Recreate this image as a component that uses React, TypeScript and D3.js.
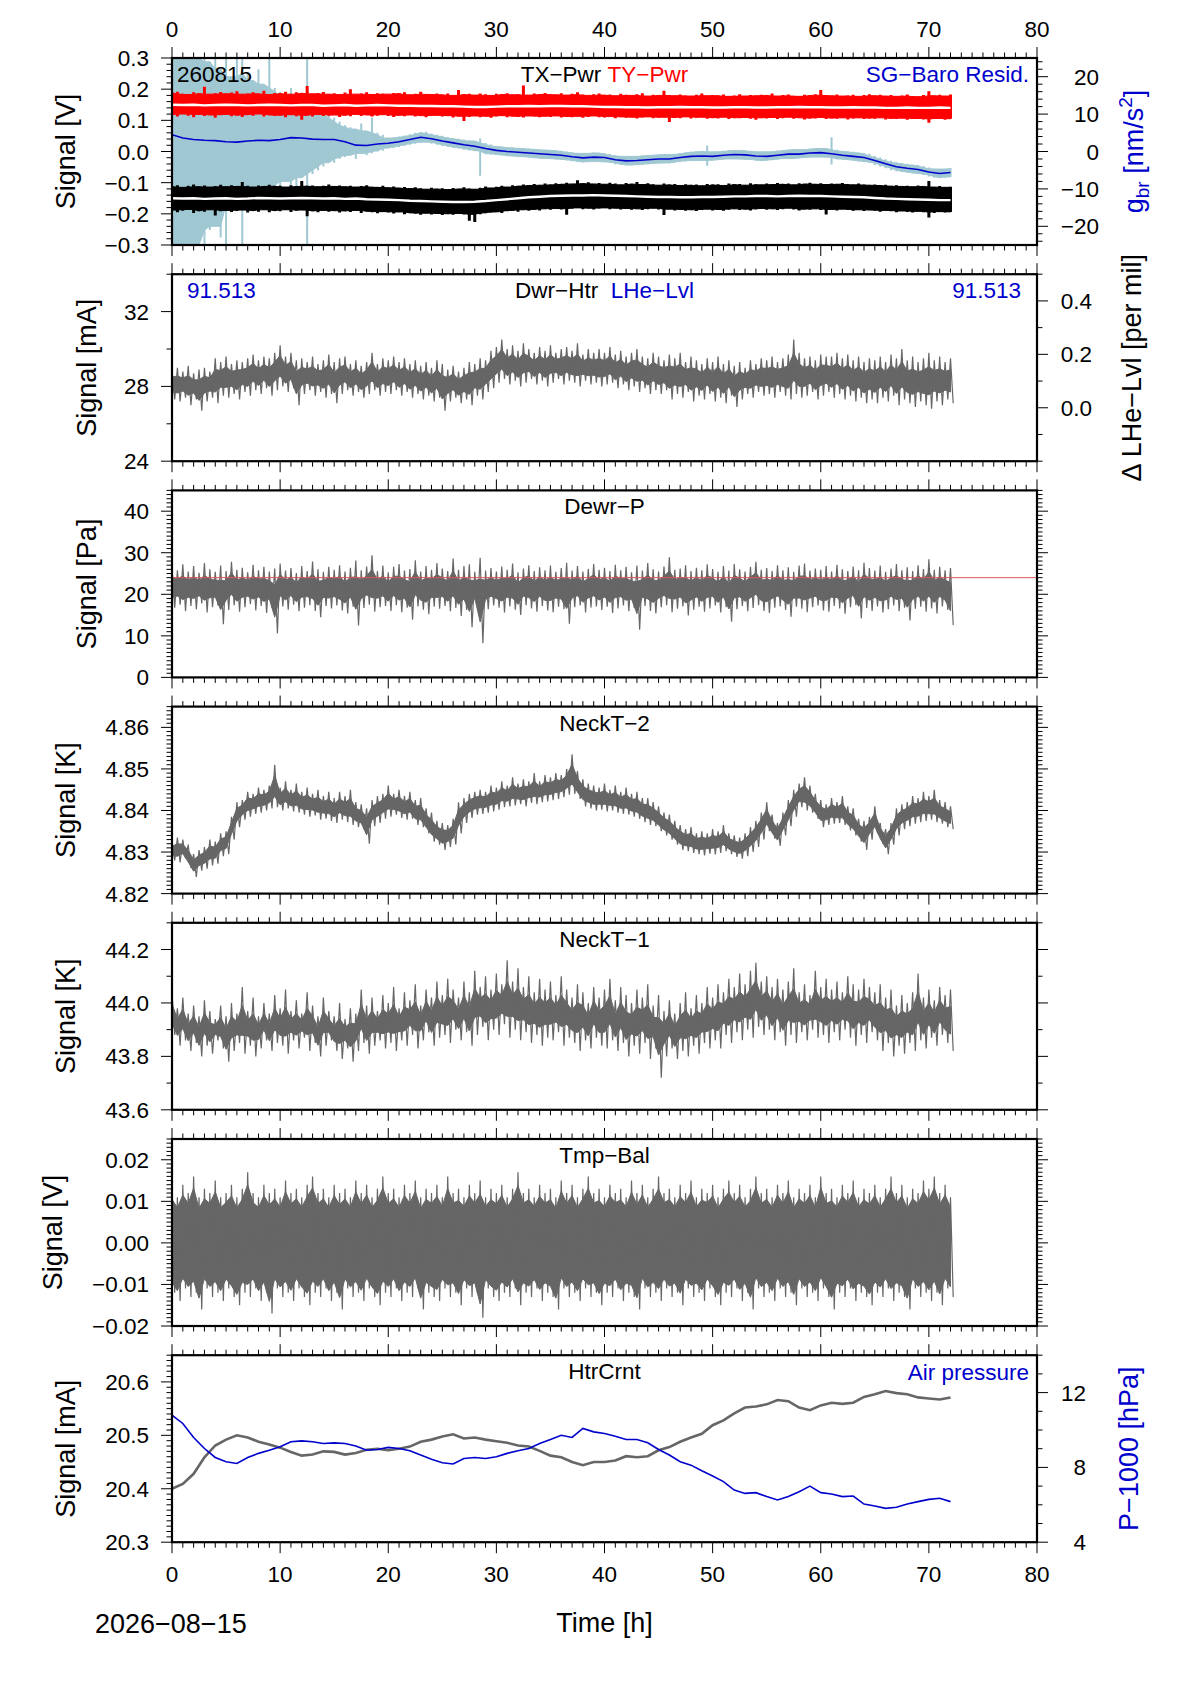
import * as d3 from "d3";

const W = 1190;
const H = 1684;
const FONT = "'Liberation Sans', Arial, Helvetica, sans-serif";
const BLUE = "#0000cc";
const GRAY = "#666666";
const LIGHT_BLUE = "#a0c8d3";
const RED = "#ff0000";

// frame geometry
const X_LEFT = 172;
const X_RIGHT = 1037;
const FIRST_TOP = 58;
const PANEL_H = 187;
const PANEL_STEP = 216.2;

const timeDomain = [0, 80];
const xMajor = [0, 10, 20, 30, 40, 50, 60, 70, 80];
const xLabels = ["0", "10", "20", "30", "40", "50", "60", "70", "80"];

// ---- panel 1: TX/TY power (V) and SG-Baro residual (nm/s^2), half-hour envelopes ----
const tyHi = [
  0.188, 0.192, 0.185, 0.183, 0.19, 0.186, 0.208, 0.184, 0.187, 0.191,
  0.185, 0.189, 0.193, 0.184, 0.186, 0.19, 0.185, 0.195, 0.183, 0.188,
  0.186, 0.192, 0.184, 0.19, 0.187, 0.21, 0.185, 0.188, 0.191, 0.184,
  0.187, 0.183, 0.189, 0.2, 0.184, 0.186, 0.19, 0.183, 0.187, 0.185,
  0.184, 0.188, 0.186, 0.19, 0.182, 0.185, 0.192, 0.184, 0.183, 0.186,
  0.182, 0.186, 0.18, 0.197, 0.183, 0.185, 0.181, 0.186, 0.184, 0.18,
  0.185, 0.183, 0.187, 0.182, 0.184, 0.212, 0.181, 0.186, 0.183, 0.188,
  0.184, 0.182, 0.187, 0.181, 0.185, 0.19, 0.183, 0.18, 0.184, 0.186,
  0.181, 0.183, 0.179, 0.185, 0.182, 0.18, 0.184, 0.187, 0.178, 0.182,
  0.18, 0.195, 0.181, 0.179, 0.183, 0.18, 0.178, 0.182, 0.186, 0.179,
  0.181, 0.179, 0.183, 0.177, 0.18, 0.184, 0.178, 0.181, 0.179, 0.182,
  0.18, 0.186, 0.178, 0.181, 0.183, 0.179, 0.177, 0.182, 0.18, 0.184,
  0.197, 0.181, 0.179, 0.183, 0.178, 0.18, 0.182, 0.177, 0.181, 0.184,
  0.179, 0.182, 0.178, 0.181, 0.177, 0.18, 0.183, 0.178, 0.176, 0.181,
  0.193, 0.179, 0.182, 0.178, 0.183,
];
const tyLo = [
  0.118, 0.112, 0.12, 0.115, 0.11, 0.119, 0.114, 0.117, 0.108, 0.116,
  0.119, 0.113, 0.116, 0.111, 0.118, 0.115, 0.12, 0.112, 0.117, 0.114,
  0.116, 0.11, 0.118, 0.113, 0.102, 0.116, 0.112, 0.119, 0.114, 0.115,
  0.117, 0.111, 0.116, 0.113, 0.119, 0.114, 0.117, 0.112, 0.115, 0.118,
  0.114, 0.111, 0.116, 0.113, 0.117, 0.112, 0.115, 0.11, 0.114, 0.116,
  0.112, 0.115, 0.109, 0.113, 0.098, 0.111, 0.114, 0.11, 0.113, 0.108,
  0.112, 0.115, 0.11, 0.113, 0.111, 0.109, 0.114, 0.112, 0.11, 0.113,
  0.111, 0.114, 0.109, 0.112, 0.11, 0.113, 0.108, 0.111, 0.114, 0.11,
  0.109, 0.112, 0.107, 0.111, 0.108, 0.11, 0.106, 0.109, 0.111, 0.107,
  0.108, 0.11, 0.095, 0.109, 0.107, 0.111, 0.106, 0.108, 0.11, 0.105,
  0.108, 0.106, 0.11, 0.104, 0.108, 0.107, 0.109, 0.105, 0.102, 0.108,
  0.106, 0.109, 0.104, 0.107, 0.11, 0.105, 0.108, 0.103, 0.107, 0.106,
  0.109, 0.104, 0.107, 0.105, 0.108, 0.103, 0.106, 0.108, 0.104, 0.107,
  0.105, 0.108, 0.103, 0.106, 0.104, 0.107, 0.102, 0.105, 0.106, 0.103,
  0.092, 0.104, 0.106, 0.102, 0.105,
];
const txHi = [
  -0.112, -0.108, -0.115, -0.11, -0.106, -0.113, -0.109, -0.114, -0.111, -0.107,
  -0.113, -0.108, -0.112, -0.098, -0.11, -0.114, -0.109, -0.112, -0.107, -0.111,
  -0.11, -0.114, -0.108, -0.112, -0.095, -0.111, -0.109, -0.113, -0.11, -0.106,
  -0.112, -0.109, -0.113, -0.11, -0.114, -0.111, -0.108, -0.113, -0.115, -0.11,
  -0.116, -0.112, -0.117, -0.114, -0.119, -0.115, -0.118, -0.121, -0.116, -0.12,
  -0.118, -0.122, -0.117, -0.12, -0.115, -0.119, -0.121, -0.116, -0.112, -0.117,
  -0.113, -0.11, -0.114, -0.108, -0.111, -0.106, -0.109, -0.104, -0.108, -0.103,
  -0.107, -0.102, -0.105, -0.1, -0.104, -0.092, -0.103, -0.099, -0.104, -0.101,
  -0.105, -0.1, -0.103, -0.107, -0.101, -0.104, -0.098, -0.106, -0.102, -0.105,
  -0.108, -0.103, -0.107, -0.104, -0.109, -0.105, -0.108, -0.106, -0.11, -0.104,
  -0.107, -0.105, -0.109, -0.103, -0.106, -0.104, -0.108, -0.102, -0.105, -0.107,
  -0.103, -0.106, -0.101, -0.105, -0.103, -0.107, -0.102, -0.104, -0.1, -0.105,
  -0.102, -0.106, -0.103, -0.105, -0.101, -0.104, -0.107, -0.103, -0.106, -0.108,
  -0.106, -0.109, -0.107, -0.111, -0.108, -0.112, -0.11, -0.113, -0.109, -0.112,
  -0.095, -0.114, -0.111, -0.115, -0.113,
];
const txLo = [
  -0.188, -0.195, -0.19, -0.186, -0.197, -0.191, -0.193, -0.187, -0.205, -0.192,
  -0.189, -0.194, -0.191, -0.188, -0.196, -0.19, -0.193, -0.187, -0.195, -0.19,
  -0.192, -0.187, -0.194, -0.19, -0.188, -0.208, -0.191, -0.195, -0.189, -0.193,
  -0.19, -0.196, -0.191, -0.194, -0.189, -0.197, -0.192, -0.195, -0.198, -0.193,
  -0.196, -0.199, -0.194, -0.201, -0.197, -0.2, -0.203, -0.198, -0.202, -0.199,
  -0.204, -0.2, -0.203, -0.199, -0.202, -0.222, -0.226, -0.201, -0.198, -0.196,
  -0.194, -0.197, -0.192, -0.189, -0.193, -0.187, -0.19, -0.186, -0.189, -0.184,
  -0.187, -0.183, -0.186, -0.203, -0.184, -0.181, -0.185, -0.182, -0.186, -0.183,
  -0.181, -0.185, -0.182, -0.186, -0.183, -0.187, -0.184, -0.188, -0.185, -0.182,
  -0.186, -0.204, -0.185, -0.189, -0.186, -0.19, -0.187, -0.191, -0.188, -0.185,
  -0.189, -0.186, -0.19, -0.187, -0.184, -0.188, -0.185, -0.189, -0.186, -0.183,
  -0.187, -0.184, -0.188, -0.185, -0.182, -0.186, -0.189, -0.185, -0.187, -0.184,
  -0.188, -0.202, -0.186, -0.189, -0.185, -0.188, -0.19, -0.187, -0.191, -0.188,
  -0.19, -0.193, -0.189, -0.192, -0.195, -0.191, -0.194, -0.196, -0.192, -0.195,
  -0.212, -0.197, -0.193, -0.196, -0.194,
];
// hourly smoothed power (white lines)
const tySmooth = [
  0.15, 0.149, 0.15, 0.148, 0.149, 0.15, 0.149, 0.148, 0.149, 0.15,
  0.149, 0.148, 0.149, 0.149, 0.147, 0.148, 0.149, 0.147, 0.148, 0.149,
  0.148, 0.147, 0.147, 0.146, 0.146, 0.145, 0.145, 0.144, 0.143, 0.143,
  0.144, 0.145, 0.145, 0.146, 0.145, 0.146, 0.146, 0.145, 0.145, 0.144,
  0.143, 0.143, 0.142, 0.142, 0.141, 0.142, 0.142, 0.143, 0.142, 0.142,
  0.141, 0.141, 0.142, 0.142, 0.141, 0.141, 0.142, 0.142, 0.143, 0.142,
  0.142, 0.141, 0.141, 0.142, 0.141, 0.141, 0.14, 0.14, 0.141, 0.14,
  0.14, 0.141, 0.14,
];
const txSmooth = [
  -0.15, -0.151, -0.15, -0.152, -0.151, -0.15, -0.152, -0.151, -0.149, -0.15,
  -0.151, -0.15, -0.149, -0.15, -0.151, -0.15, -0.152, -0.151, -0.153, -0.154,
  -0.155, -0.156, -0.158, -0.159, -0.16, -0.161, -0.162, -0.162, -0.161, -0.159,
  -0.156, -0.153, -0.15, -0.147, -0.145, -0.143, -0.142, -0.141, -0.141, -0.14,
  -0.141, -0.142, -0.143, -0.144, -0.145, -0.146, -0.146, -0.147, -0.147, -0.146,
  -0.146, -0.145, -0.144, -0.144, -0.143, -0.143, -0.144, -0.143, -0.142, -0.143,
  -0.143, -0.144, -0.145, -0.146, -0.147, -0.149, -0.151, -0.152, -0.153, -0.154,
  -0.155, -0.156, -0.156,
];
const gbrHi = [
  25, 25, 25, 25, 25, 25, 25, 24, 25, 22,
  25, 20, 25, 25, 21, 19, 22, 18, 25, 17,
  16, 15, 17, 14, 15, 25, 12, 11, 10, 11,
  9, 8, 7, 6.5, 6, 7.5, 5.5, 9, 5, 4.5,
  3.6, 3.8, 4.0, 4.3, 4.6, 5.0, 5.2, 5.3, 4.8, 4.5,
  4.2, 3.9, 3.6, 3.4, 3.2, 2.9, 2.8, 3.5, 2.3, 1.9,
  1.5, 1.3, 1.2, 1.0, 1.0, 0.8, 0.8, 0.6, 0.6, 0.4,
  0.4, 0.3, 0.2, 0.0, -0.2, -0.4, -0.5, -0.4, -0.3, -0.4,
  -0.4, -0.7, -1.0, -1.2, -1.3, -1.3, -1.2, -1.1, -1.0, -0.9,
  -0.8, -0.8, -0.8, -0.6, -0.4, -0.2, -0.1, 0.0, 0.0, 1.6,
  -0.1, 0.0, 0.2, 0.3, 0.4, 0.3, 0.3, 0.2, 0.0, -0.1,
  -0.1, 0.1, 0.2, 0.4, 0.5, 0.5, 0.5, 0.6, 0.8, 0.9,
  0.9, 0.8, 3.8, 0.5, 0.2, 0.0, -0.1, -0.3, -0.4, -0.6,
  -1.2, -1.6, -2.1, -2.5, -2.9, -3.1, -3.3, -3.6, -3.6, -3.9,
  -4.3, -4.6, -4.7, -4.6, -4.4,
];
const gbrLo = [
  -25, -25, -25, -25, -25, -25, -25, -21, -20, -23,
  -25, -14, -16, -25, -12, -11, -13, -10, -14, -9,
  -11, -8, -9, -10, -7, -25, -6, -5, -4, -3,
  -3, -2, -1.5, -1, -2, -0.5, -1, -0.5, 0, 0.2,
  0.8, 1.0, 1.2, 1.5, 1.8, 2.1, 2.4, 2.5, 2.1, 1.8,
  1.5, 1.2, 1.0, 0.8, 0.5, 0.3, 0.1, -6.5, -0.6, -0.8,
  -0.9, -1.1, -1.2, -1.3, -1.4, -1.5, -1.6, -1.8, -1.8, -1.9,
  -2.0, -2.1, -2.2, -2.4, -2.6, -2.8, -2.9, -2.8, -2.7, -2.8,
  -2.8, -3.1, -3.4, -3.6, -3.7, -3.7, -3.6, -3.5, -3.4, -3.3,
  -3.2, -3.1, -3.2, -3.0, -2.8, -2.6, -2.5, -2.4, -2.4, -3.8,
  -2.5, -2.3, -2.2, -2.0, -2.0, -2.1, -2.1, -2.3, -2.4, -2.5,
  -2.5, -2.3, -2.2, -2.0, -1.9, -1.9, -1.9, -1.7, -1.6, -1.5,
  -1.5, -1.6, -3.5, -2.0, -2.2, -2.3, -2.5, -2.7, -2.8, -3.1,
  -3.6, -4.0, -4.5, -5.0, -5.3, -5.5, -5.7, -5.9, -6.0, -6.3,
  -6.7, -7.0, -7.1, -7.0, -6.8,
];
const gbrSmooth = [
  4.5, 3.6, 3.2, 3.0, 2.9, 2.6, 2.5, 2.8, 3.0, 2.9,
  3.2, 3.7, 3.6, 3.3, 3.2, 3.2, 2.6, 1.7, 1.6, 2.0,
  2.2, 2.6, 3.2, 3.8, 3.4, 2.8, 2.3, 1.8, 1.4, 0.8,
  0.3, 0.0, -0.2, -0.4, -0.6, -0.8, -1.0, -1.4, -1.7, -1.5,
  -1.6, -2.2, -2.5, -2.4, -2.2, -2.0, -2.0, -1.6, -1.3, -1.2,
  -1.3, -1.0, -0.8, -0.9, -1.2, -1.3, -1.0, -0.7, -0.7, -0.4,
  -0.3, -0.6, -1.0, -1.3, -1.6, -2.4, -3.3, -4.1, -4.5, -4.8,
  -5.5, -5.9, -5.6,
];

// ---- panel 2: Dwr-Htr (mA) ----
const dwrHtrHi = [
  28.9, 29.0, 28.8, 29.1, 28.7, 28.9, 29.0, 28.8, 29.5, 29.3,
  29.6, 29.2, 29.4, 29.3, 29.5, 29.7, 29.4, 29.6, 29.5, 29.8,
  30.2, 29.6, 29.8, 29.4, 29.5, 29.3, 29.6, 29.2, 29.4, 29.7,
  29.3, 29.5, 29.6, 29.2, 29.4, 29.1, 29.3, 29.8, 29.2, 29.5,
  29.4, 29.6, 29.3, 29.5, 29.2, 29.4, 29.1, 29.3, 29.0, 29.4,
  29.2, 28.9, 29.1, 28.8, 29.0, 29.3, 29.2, 29.5, 29.4, 29.9,
  30.1, 30.5, 30.0, 30.2, 29.9, 30.3, 30.0, 29.8, 30.1, 29.9,
  30.2, 29.8, 30.0, 30.1, 29.9, 30.3, 29.7, 30.0, 29.8, 30.0,
  29.8, 30.1, 29.7, 29.9, 29.6, 29.8, 30.0, 29.6, 29.5, 29.8,
  29.6, 29.4, 29.7, 29.5, 29.8, 29.3, 29.6, 29.4, 29.2, 29.5,
  29.3, 29.6, 29.2, 29.4, 29.1, 29.3, 29.0, 29.4, 29.2, 29.5,
  29.4, 29.6, 29.3, 29.5, 29.7, 30.5, 29.8, 29.5, 29.6, 29.4,
  29.7, 29.6, 29.6, 29.8, 29.5, 29.7, 29.4, 29.6, 29.3, 29.5,
  29.4, 29.6, 29.3, 29.7, 29.5, 30.0, 29.4, 29.6, 29.3, 29.5,
  29.8, 29.4, 29.6, 29.3, 29.5,
];
const dwrHtrLo = [
  27.3, 27.2, 27.4, 27.0, 27.3, 26.7, 27.2, 27.4, 27.1, 27.5,
  27.4, 27.6, 27.3, 27.7, 27.5, 27.8, 27.6, 27.9, 27.5, 27.8,
  28.0, 27.7, 27.9, 27.0, 27.6, 27.8, 27.5, 27.7, 27.4, 27.6,
  27.1, 27.6, 27.8, 27.5, 27.7, 27.4, 27.6, 27.8, 27.5, 27.7,
  27.6, 27.8, 27.5, 27.7, 27.4, 27.6, 27.3, 27.5, 27.2, 27.4,
  26.7, 27.2, 27.4, 27.1, 27.3, 27.0, 27.5, 27.3, 27.7, 27.9,
  28.2, 28.4, 28.1, 28.3, 28.0, 28.2, 28.4, 28.1, 28.3, 28.0,
  28.2, 28.4, 28.1, 28.3, 28.2, 28.0, 28.3, 28.1, 28.2, 28.0,
  28.1, 28.2, 27.9, 28.1, 27.8, 28.0, 27.7, 27.9, 27.6, 27.8,
  27.6, 27.8, 27.3, 27.6, 27.4, 27.7, 27.2, 27.5, 27.3, 27.6,
  27.2, 27.4, 27.1, 27.5, 26.9, 27.3, 27.6, 27.4, 27.7, 27.5,
  27.6, 27.4, 27.7, 27.5, 27.3, 27.6, 27.4, 27.5, 27.7, 27.3,
  27.5, 27.7, 27.4, 27.6, 27.3, 27.5, 27.2, 27.4, 27.1, 27.3,
  27.1, 27.4, 27.2, 27.5, 27.0, 27.3, 27.1, 26.9, 27.2, 27.0,
  26.8, 27.2, 27.0, 27.3, 27.1,
];
const lheLabel = "91.513";

// ---- panel 3: Dewr-P (Pa) ----
const dewrPHi = [
  26.5, 25.8, 27.2, 25.5, 26.8, 25.2, 27.5, 26.0, 25.4, 26.9,
  25.6, 27.8, 25.9, 26.4, 25.3, 27.1, 25.8, 26.6, 25.5, 26.2,
  27.4, 25.7, 26.3, 25.1, 26.8, 25.6, 27.9, 26.0, 25.4, 26.6,
  25.9, 27.0, 25.5, 26.4, 28.1, 25.8, 26.7, 29.4, 25.6, 26.9,
  25.3, 26.6, 27.3, 25.7, 26.1, 28.2, 25.5, 26.8, 25.9, 27.5,
  26.2, 25.6, 28.6, 25.9, 26.8, 27.2, 25.4, 28.8, 25.7, 26.3,
  25.5, 26.7, 25.9, 27.4, 25.3, 26.2, 27.0, 25.6, 26.5, 25.8,
  26.9, 25.4, 26.3, 27.6, 25.7, 26.8, 25.5, 26.1, 27.3, 25.9,
  26.4, 25.6, 27.1, 25.8, 26.6, 25.3, 26.9, 25.7, 27.5, 26.0,
  25.5, 26.7, 28.9, 25.9, 26.2, 27.0, 25.6, 26.4, 25.8, 27.2,
  26.1, 25.4, 26.8, 25.7, 27.3, 26.0, 25.5, 26.6, 27.8, 25.9,
  26.3, 25.6, 27.0, 25.8, 26.5, 25.4, 26.9, 27.4, 25.7, 26.2,
  25.9, 26.8, 25.5, 27.1, 26.0, 25.6, 26.7, 25.8, 27.6, 26.3,
  25.7, 26.9, 25.4, 26.2, 27.3, 25.8, 26.5, 25.6, 27.0, 26.1,
  28.4, 25.9, 26.6, 25.8, 26.3,
];
const dewrPLo = [
  16.8, 17.5, 15.9, 17.2, 16.4, 17.8, 15.6, 16.9, 17.3, 12.8,
  16.2, 17.4, 15.8, 16.9, 17.6, 16.1, 17.2, 15.5, 16.7, 10.6,
  17.1, 16.3, 17.5, 15.9, 16.8, 17.4, 16.0, 14.5, 17.2, 16.6,
  17.3, 16.1, 15.4, 17.0, 12.5, 16.7, 17.5, 15.8, 16.9, 17.2,
  16.0, 17.4, 15.7, 16.8, 13.9, 17.1, 16.3, 15.2, 17.0, 16.5,
  17.2, 15.9, 16.7, 14.8, 16.2, 12.1, 17.0, 8.2, 16.4, 17.3,
  16.8, 15.6, 17.1, 16.3, 15.0, 17.4, 16.6, 15.8, 17.2, 16.1,
  15.7, 17.0, 16.4, 12.9, 16.9, 17.3, 15.6, 16.8, 17.1, 16.2,
  17.0, 15.5, 16.6, 17.3, 15.9, 16.7, 11.5, 17.2, 16.0, 15.4,
  16.9, 17.4, 15.7, 16.5, 17.1, 14.9, 16.3, 17.0, 15.8, 16.6,
  17.3, 15.6, 16.9, 13.4, 16.4, 17.2, 15.9, 16.7, 17.4, 16.0,
  15.5, 16.8, 17.1, 16.2, 14.6, 17.0, 16.5, 15.7, 16.9, 17.3,
  16.1, 15.8, 17.2, 16.6, 15.3, 16.9, 17.4, 14.2, 16.7, 16.0,
  17.1, 15.6, 16.4, 17.3, 15.9, 16.8, 13.7, 16.5, 17.0, 15.8,
  16.6, 15.4, 17.1, 16.2, 12.6,
];
const dewrPLimit = [24];

// ---- panel 4: NeckT-2 (K) ----
const neck2Hi = [
  4.8325, 4.8335, 4.833, 4.8318, 4.8295, 4.8305, 4.8312, 4.833, 4.8325, 4.8345,
  4.835, 4.8385, 4.842, 4.8425, 4.8445, 4.844, 4.8455, 4.845, 4.846, 4.851,
  4.8455, 4.847, 4.845, 4.8465, 4.8445, 4.8455, 4.844, 4.845, 4.8435, 4.8445,
  4.843, 4.8445, 4.8435, 4.845, 4.842, 4.8415, 4.8405, 4.8425, 4.8435, 4.844,
  4.846, 4.844, 4.845, 4.8435, 4.8445, 4.8425, 4.843, 4.8405, 4.8395, 4.8375,
  4.837, 4.8365, 4.838, 4.842, 4.843, 4.844, 4.8445, 4.845, 4.8445, 4.846,
  4.8455, 4.847, 4.846, 4.848, 4.8465, 4.8475, 4.847, 4.849, 4.847, 4.8485,
  4.848, 4.849, 4.8485, 4.85, 4.8535, 4.8495, 4.8475, 4.8465, 4.846, 4.8455,
  4.8465, 4.845, 4.846, 4.8445, 4.8455, 4.844, 4.8445, 4.843, 4.843, 4.842,
  4.841, 4.8395, 4.839, 4.8375, 4.8365, 4.8355, 4.836, 4.8345, 4.835, 4.8345,
  4.8355, 4.835, 4.8365, 4.8345, 4.834, 4.8335, 4.8345, 4.836, 4.8375, 4.8395,
  4.842, 4.839, 4.837, 4.8395, 4.8425, 4.845, 4.8465, 4.848, 4.846, 4.844,
  4.8425, 4.8415, 4.843, 4.842, 4.8435, 4.841, 4.8405, 4.838, 4.8375, 4.8385,
  4.841, 4.837, 4.8355, 4.837, 4.8405, 4.8415, 4.842, 4.8435, 4.843, 4.8445,
  4.8435, 4.845, 4.8425, 4.842, 4.841,
];
const neck2Lo = [
  4.828, 4.8275, 4.8285, 4.8262, 4.824, 4.8255, 4.826, 4.8268, 4.8272, 4.829,
  4.8295, 4.833, 4.836, 4.8378, 4.8385, 4.8392, 4.8395, 4.84, 4.8405, 4.8408,
  4.84, 4.8405, 4.8398, 4.8395, 4.839, 4.8385, 4.8388, 4.8378, 4.838, 4.8375,
  4.837, 4.8378, 4.8372, 4.8365, 4.836, 4.8355, 4.832, 4.8362, 4.837, 4.838,
  4.8385, 4.839, 4.8382, 4.8378, 4.838, 4.8365, 4.836, 4.8345, 4.8325, 4.8318,
  4.8305, 4.8312, 4.8318, 4.8345, 4.837, 4.8382, 4.839, 4.8392, 4.8395, 4.8398,
  4.8402, 4.8408, 4.841, 4.8412, 4.8415, 4.841, 4.8418, 4.8415, 4.842, 4.8422,
  4.8425, 4.8428, 4.8432, 4.8438, 4.844, 4.8428, 4.841, 4.8405, 4.84, 4.8402,
  4.8398, 4.84, 4.8395, 4.8392, 4.839, 4.8385, 4.838, 4.8372, 4.8365, 4.8362,
  4.835, 4.834, 4.833, 4.8318, 4.8305, 4.8302, 4.8298, 4.8295, 4.8292, 4.8296,
  4.8294, 4.8298, 4.8302, 4.8295, 4.8288, 4.8284, 4.829, 4.83, 4.8312, 4.833,
  4.835, 4.8332, 4.8315, 4.834, 4.8362, 4.8385, 4.8408, 4.84, 4.8395, 4.838,
  4.836, 4.8365, 4.8368, 4.837, 4.8365, 4.8352, 4.834, 4.8325, 4.8305, 4.833,
  4.8345, 4.832, 4.8295, 4.8318, 4.834, 4.8355, 4.8362, 4.8368, 4.8372, 4.8375,
  4.8378, 4.8372, 4.8368, 4.836, 4.8355,
];

// ---- panel 5: NeckT-1 (K) ----
const neck1Hi = [
  44.04, 43.98, 44.02, 43.96, 43.99, 43.95, 44.01, 43.97, 43.94, 43.99,
  43.95, 44.0, 43.96, 44.06, 43.97, 44.02, 43.95, 44.0, 43.96, 44.03,
  43.98, 44.05, 43.97, 44.01, 43.96, 44.04, 43.99, 43.95, 44.02, 43.97,
  43.95, 44.0, 43.94, 43.98, 43.96, 44.05, 43.99, 44.02, 43.97, 44.03,
  44.0, 44.06, 43.98, 44.04, 44.01, 44.07, 43.99, 44.05, 44.02, 44.08,
  44.03, 44.09, 44.05, 44.02, 44.08, 44.04, 44.12, 44.06, 44.1, 44.05,
  44.11, 44.07, 44.16, 44.08, 44.13, 44.06, 44.1, 44.04, 44.09, 44.05,
  44.08, 44.03, 44.1, 44.05, 44.02, 44.07, 44.04, 44.0, 44.06, 44.02,
  44.05, 44.09, 44.01, 44.06, 44.03, 44.0, 44.05, 44.02, 44.07, 43.99,
  44.03, 43.97, 44.01, 43.96, 44.0, 44.04, 43.98, 44.03, 44.0, 44.06,
  44.02, 44.07, 44.04, 44.09, 44.06, 44.11, 44.07, 44.12, 44.15, 44.08,
  44.1, 44.06, 44.09, 44.05, 44.08, 44.13, 44.04, 44.07, 44.03, 44.12,
  44.06, 44.09, 44.05, 44.08, 44.04, 44.1, 44.07, 44.05, 44.09, 44.06,
  44.04, 44.07, 44.02, 44.05, 43.99, 44.03, 44.0, 44.04, 44.11, 44.02,
  44.05, 44.01, 44.06, 44.03, 44.05,
];
const neck1Lo = [
  43.88, 43.84, 43.86, 43.82, 43.85, 43.8, 43.84, 43.81, 43.86, 43.83,
  43.78, 43.82, 43.85, 43.81, 43.84, 43.8, 43.83, 43.86, 43.82, 43.85,
  43.84, 43.81, 43.86, 43.83, 43.87, 43.82, 43.85, 43.8, 43.84, 43.86,
  43.82, 43.79, 43.83, 43.78, 43.82, 43.85, 43.81, 43.84, 43.86, 43.83,
  43.85, 43.82, 43.86, 43.84, 43.88, 43.83, 43.86, 43.89, 43.84, 43.87,
  43.88, 43.85, 43.9, 43.86, 43.89, 43.84, 43.88, 43.91, 43.86, 43.9,
  43.88, 43.92, 43.87, 43.9, 43.86, 43.89, 43.85, 43.88, 43.84, 43.87,
  43.86, 43.89, 43.84, 43.87, 43.85, 43.82, 43.86, 43.83, 43.87, 43.84,
  43.83, 43.86, 43.82, 43.85, 43.8, 43.84, 43.81, 43.85, 43.79, 43.83,
  43.72, 43.8, 43.83, 43.79, 43.82, 43.8, 43.84, 43.81, 43.85, 43.83,
  43.86, 43.83, 43.88, 43.85, 43.89, 43.86, 43.9, 43.87, 43.91, 43.88,
  43.9, 43.86, 43.89, 43.84, 43.88, 43.85, 43.89, 43.86, 43.9, 43.87,
  43.88, 43.85, 43.89, 43.86, 43.9, 43.87, 43.84, 43.88, 43.85, 43.89,
  43.86, 43.82, 43.85, 43.8, 43.84, 43.81, 43.85, 43.82, 43.86, 43.83,
  43.87, 43.84, 43.88, 43.85, 43.82,
];

// ---- panel 6: Tmp-Bal (V) ----
const tmpBalHi = [
  0.013, 0.011, 0.014, 0.012, 0.016, 0.011, 0.013, 0.012, 0.015, 0.011,
  0.012, 0.014, 0.011, 0.013, 0.017, 0.012, 0.011, 0.014, 0.012, 0.013,
  0.011, 0.015, 0.012, 0.013, 0.011, 0.014, 0.016, 0.012, 0.013, 0.011,
  0.014, 0.012, 0.013, 0.011, 0.015, 0.012, 0.014, 0.011, 0.013, 0.016,
  0.012, 0.013, 0.011, 0.014, 0.012, 0.015, 0.011, 0.013, 0.012, 0.014,
  0.011, 0.016, 0.012, 0.013, 0.011, 0.014, 0.012, 0.015, 0.011, 0.013,
  0.012, 0.014, 0.011, 0.013, 0.017, 0.012, 0.013, 0.011, 0.014, 0.012,
  0.013, 0.011, 0.015, 0.012, 0.014, 0.011, 0.013, 0.016, 0.012, 0.013,
  0.011, 0.014, 0.012, 0.013, 0.011, 0.015, 0.012, 0.014, 0.011, 0.013,
  0.016, 0.012, 0.013, 0.011, 0.014, 0.012, 0.015, 0.011, 0.013, 0.012,
  0.014, 0.011, 0.013, 0.015, 0.012, 0.014, 0.011, 0.013, 0.016, 0.012,
  0.013, 0.011, 0.014, 0.012, 0.015, 0.011, 0.013, 0.012, 0.014, 0.011,
  0.016, 0.012, 0.013, 0.011, 0.014, 0.012, 0.015, 0.011, 0.013, 0.012,
  0.014, 0.011, 0.013, 0.016, 0.012, 0.014, 0.011, 0.013, 0.012, 0.015,
  0.013, 0.016, 0.012, 0.014, 0.011,
];
const tmpBalLo = [
  -0.012, -0.014, -0.011, -0.013, -0.012, -0.016, -0.011, -0.013, -0.012, -0.014,
  -0.011, -0.013, -0.015, -0.012, -0.013, -0.011, -0.014, -0.012, -0.017, -0.011,
  -0.013, -0.012, -0.014, -0.011, -0.013, -0.015, -0.012, -0.013, -0.011, -0.014,
  -0.012, -0.016, -0.011, -0.013, -0.012, -0.014, -0.011, -0.013, -0.015, -0.012,
  -0.013, -0.011, -0.014, -0.012, -0.013, -0.011, -0.016, -0.012, -0.013, -0.014,
  -0.011, -0.013, -0.012, -0.015, -0.011, -0.013, -0.012, -0.018, -0.011, -0.013,
  -0.014, -0.012, -0.013, -0.011, -0.015, -0.012, -0.013, -0.011, -0.014, -0.012,
  -0.013, -0.016, -0.011, -0.013, -0.012, -0.014, -0.011, -0.013, -0.012, -0.015,
  -0.012, -0.013, -0.011, -0.014, -0.012, -0.013, -0.016, -0.011, -0.013, -0.012,
  -0.014, -0.011, -0.013, -0.012, -0.015, -0.011, -0.013, -0.012, -0.014, -0.011,
  -0.013, -0.015, -0.012, -0.013, -0.011, -0.014, -0.012, -0.016, -0.011, -0.013,
  -0.012, -0.014, -0.011, -0.013, -0.012, -0.015, -0.011, -0.013, -0.012, -0.014,
  -0.011, -0.013, -0.016, -0.012, -0.013, -0.011, -0.014, -0.012, -0.013, -0.015,
  -0.012, -0.013, -0.011, -0.014, -0.012, -0.013, -0.016, -0.011, -0.013, -0.012,
  -0.014, -0.012, -0.015, -0.011, -0.013,
];

// ---- panel 7: HtrCrnt (mA) and air pressure (hPa - 1000), hourly ----
const htrCrnt = [
  20.4, 20.409, 20.428, 20.459, 20.481, 20.492, 20.5, 20.496, 20.488, 20.483,
  20.477, 20.469, 20.462, 20.464, 20.47, 20.469, 20.464, 20.467, 20.473, 20.475,
  20.472, 20.475, 20.479, 20.488, 20.492, 20.498, 20.502, 20.494, 20.496, 20.492,
  20.489, 20.486, 20.481, 20.479, 20.471, 20.462, 20.459, 20.45, 20.444, 20.45,
  20.45, 20.453, 20.461, 20.459, 20.461, 20.472, 20.478, 20.488, 20.496, 20.503,
  20.519, 20.528, 20.541, 20.552, 20.554, 20.558, 20.566, 20.564, 20.552, 20.547,
  20.556, 20.561, 20.559, 20.561, 20.572, 20.577, 20.583, 20.579, 20.577, 20.571,
  20.569, 20.567, 20.571,
];
const airPressure = [
  10.79, 10.35, 9.6, 9.01, 8.53, 8.3, 8.21, 8.53, 8.75, 8.92,
  9.1, 9.37, 9.42, 9.37, 9.28, 9.31, 9.28, 9.14, 8.92, 8.96,
  9.07, 9.01, 8.89, 8.66, 8.43, 8.25, 8.18, 8.48, 8.53, 8.48,
  8.57, 8.75, 8.89, 9.01, 9.28, 9.49, 9.72, 9.6, 10.08, 9.9,
  9.81, 9.67, 9.49, 9.49, 9.32, 8.96, 8.66, 8.3, 8.12, 7.82,
  7.54, 7.24, 6.79, 6.61, 6.65, 6.44, 6.26, 6.44, 6.7, 7.0,
  6.65, 6.58, 6.44, 6.47, 6.04, 5.94, 5.81, 5.87, 6.04, 6.17,
  6.29, 6.35, 6.17,
];

// ---- axes ----
interface AxisSpec {
  domain: number[];
  major: number[];
  labels: string[];
  minor: number;
  labelEnd?: number;
}
interface PanelSpec {
  left: AxisSpec;
  right?: AxisSpec;
  mirror: boolean;
  ylabel: string;
  ylabelX: number;
}

const panels: PanelSpec[] = [
  {
    left: {
      domain: [-0.3, 0.3],
      major: [-0.3, -0.2, -0.1, 0, 0.1, 0.2, 0.3],
      labels: ["\u22120.3", "\u22120.2", "\u22120.1", "0.0", "0.1", "0.2", "0.3"],
      minor: 0.02,
    },
    right: {
      domain: [-25, 25],
      major: [-20, -10, 0, 10, 20],
      labels: ["\u221220", "\u221210", "0", "10", "20"],
      minor: 2,
      labelEnd: 1099,
    },
    mirror: false,
    ylabel: "Signal [V]",
    ylabelX: 75,
  },
  {
    left: { domain: [24, 34], major: [24, 28, 32], labels: ["24", "28", "32"], minor: 2 },
    right: {
      domain: [-0.2, 0.5],
      major: [0, 0.2, 0.4],
      labels: ["0.0", "0.2", "0.4"],
      minor: 0.1,
      labelEnd: 1092,
    },
    mirror: false,
    ylabel: "Signal [mA]",
    ylabelX: 96,
  },
  {
    left: {
      domain: [0, 45],
      major: [0, 10, 20, 30, 40],
      labels: ["0", "10", "20", "30", "40"],
      minor: 1,
    },
    mirror: true,
    ylabel: "Signal [Pa]",
    ylabelX: 96,
  },
  {
    left: {
      domain: [4.82, 4.865],
      major: [4.82, 4.83, 4.84, 4.85, 4.86],
      labels: ["4.82", "4.83", "4.84", "4.85", "4.86"],
      minor: 0.001,
    },
    mirror: true,
    ylabel: "Signal [K]",
    ylabelX: 75,
  },
  {
    left: {
      domain: [43.6, 44.3],
      major: [43.6, 43.8, 44.0, 44.2],
      labels: ["43.6", "43.8", "44.0", "44.2"],
      minor: 0.1,
    },
    mirror: true,
    ylabel: "Signal [K]",
    ylabelX: 75,
  },
  {
    left: {
      domain: [-0.02, 0.025],
      major: [-0.02, -0.01, 0, 0.01, 0.02],
      labels: ["\u22120.02", "\u22120.01", "0.00", "0.01", "0.02"],
      minor: 0.001,
    },
    mirror: true,
    ylabel: "Signal [V]",
    ylabelX: 62,
  },
  {
    left: {
      domain: [20.3, 20.65],
      major: [20.3, 20.4, 20.5, 20.6],
      labels: ["20.3", "20.4", "20.5", "20.6"],
      minor: 0.01,
    },
    right: {
      domain: [4, 14],
      major: [4, 8, 12],
      labels: ["4", "8", "12"],
      minor: 1,
      labelEnd: 1086,
    },
    mirror: false,
    ylabel: "Signal [mA]",
    ylabelX: 75,
  },
];

const TICK_MAJOR = 11;
const TICK_MINOR = 5.5;
const TICK_FS = 22.5;
const LABEL_FS = 27;
const DT = 0.5;

function minorTicks(domain: number[], step: number, major: number[]) {
  const a = Math.ceil(domain[0] / step - 1e-6);
  const b = Math.floor(domain[1] / step + 1e-6);
  return d3
    .range(a, b + 1)
    .map((k) => k * step)
    .filter((v) => !major.some((m) => Math.abs(m - v) < step * 0.01));
}

type Scale = d3.ScaleLinear<number, number>;

// dense core of a noisy record: the inner part of each half-hour envelope
function core(hi: number[], lo: number[], x: Scale, y: Scale, frac: number) {
  return d3
    .area<number>()
    .x((_, i) => x(i * DT))
    .y1((h, i) => y((h + lo[i]) / 2 + (frac * (h - lo[i])) / 2))
    .y0((h, i) => y((h + lo[i]) / 2 - (frac * (h - lo[i])) / 2))(hi) as string;
}

// the trace itself, swinging between the envelope extremes
function trace(hi: number[], lo: number[], x: Scale, y: Scale) {
  const pts: [number, number][] = [];
  hi.forEach((h, i) => {
    pts.push([i * DT, h]);
    pts.push([i * DT + DT / 2, lo[i]]);
  });
  return d3
    .line<[number, number]>()
    .x((d) => x(d[0]))
    .y((d) => y(d[1]))(pts) as string;
}

// individual excursions: one vertical stroke per sample from low to high
function spikes(hi: number[], lo: number[], x: Scale, y: Scale) {
  return hi.map((h, i) => `M${x(i * DT)},${y(lo[i])}V${y(h)}`).join("");
}

// rolling inner band used for the thick power traces
function innerBand(hi: number[], lo: number[], x: Scale, y: Scale) {
  const n = hi.length;
  const nb = (i: number) => [Math.max(0, i - 1), i, Math.min(n - 1, i + 1)];
  return d3
    .area<number>()
    .x((_, i) => x(i * DT))
    .y1((_, i) => y(d3.min(nb(i), (k) => hi[k]) as number))
    .y0((_, i) => y(d3.max(nb(i), (k) => lo[k]) as number))(hi) as string;
}

function hourly(vals: number[], x: Scale, y: Scale) {
  return d3
    .line<number>()
    .x((_, i) => x(i))
    .y((d) => y(d))(vals) as string;
}

function GrayNoise({
  hi,
  lo,
  x,
  y,
  frac,
}: {
  hi: number[];
  lo: number[];
  x: Scale;
  y: Scale;
  frac: number;
}) {
  return (
    <g>
      <path d={core(hi, lo, x, y, frac)} fill={GRAY} stroke={GRAY} strokeWidth={1} />
      <path d={trace(hi, lo, x, y)} fill="none" stroke={GRAY} strokeWidth={1.2} />
    </g>
  );
}

function ThickNoise({
  hi,
  lo,
  x,
  y,
  color,
  width,
}: {
  hi: number[];
  lo: number[];
  x: Scale;
  y: Scale;
  color: string;
  width: number;
}) {
  return (
    <g>
      <path d={innerBand(hi, lo, x, y)} fill={color} stroke={color} strokeWidth={1} />
      <path d={spikes(hi, lo, x, y)} fill="none" stroke={color} strokeWidth={width} />
    </g>
  );
}

function YAxis({
  axis,
  y,
  side,
  labels,
}: {
  axis: AxisSpec;
  y: Scale;
  side: "left" | "right";
  labels: boolean;
}) {
  const x0 = side === "left" ? X_LEFT : X_RIGHT;
  const dir = side === "left" ? -1 : 1;
  const minors = minorTicks(axis.domain, axis.minor, axis.major);
  const labelX = side === "left" ? 149 : axis.labelEnd ?? 1090;
  return (
    <g>
      {minors.map((v) => (
        <line
          key={"m" + v}
          x1={x0}
          x2={x0 + dir * TICK_MINOR}
          y1={y(v)}
          y2={y(v)}
          stroke="#000"
          strokeWidth={1}
        />
      ))}
      {axis.major.map((v) => (
        <line
          key={"M" + v}
          x1={x0}
          x2={x0 + dir * TICK_MAJOR}
          y1={y(v)}
          y2={y(v)}
          stroke="#000"
          strokeWidth={1}
        />
      ))}
      {labels &&
        axis.major.map((v, i) => (
          <text
            key={"t" + v}
            x={labelX}
            y={y(v) + 8}
            textAnchor="end"
            fontSize={TICK_FS}
          >
            {axis.labels[i]}
          </text>
        ))}
    </g>
  );
}

function XTicks({ x, top }: { x: Scale; top: number }) {
  const minors = minorTicks(timeDomain, 1, xMajor);
  const bottom = top + PANEL_H;
  return (
    <g stroke="#000" strokeWidth={1}>
      {minors.map((v) => (
        <g key={v}>
          <line x1={x(v)} x2={x(v)} y1={top} y2={top - TICK_MINOR} />
          <line x1={x(v)} x2={x(v)} y1={bottom} y2={bottom + TICK_MINOR} />
        </g>
      ))}
      {xMajor.map((v) => (
        <g key={"M" + v}>
          <line x1={x(v)} x2={x(v)} y1={top} y2={top - TICK_MAJOR} />
          <line x1={x(v)} x2={x(v)} y1={bottom} y2={bottom + TICK_MAJOR} />
        </g>
      ))}
    </g>
  );
}

export default function App() {
  const x = d3.scaleLinear().domain(timeDomain).range([X_LEFT, X_RIGHT]);
  const tops = panels.map((_, i) => FIRST_TOP + i * PANEL_STEP);
  const yl = panels.map((p, i) =>
    d3.scaleLinear().domain(p.left.domain).range([tops[i] + PANEL_H, tops[i]])
  );
  const yr = panels.map((p, i) =>
    p.right
      ? d3.scaleLinear().domain(p.right.domain).range([tops[i] + PANEL_H, tops[i]])
      : null
  );
  const cx = (X_LEFT + X_RIGHT) / 2;
  const mid = (i: number) => tops[i] + PANEL_H / 2;
  const noisy = [
    { i: 1, hi: dwrHtrHi, lo: dwrHtrLo, f: 0.5 },
    { i: 2, hi: dewrPHi, lo: dewrPLo, f: 0.5 },
    { i: 3, hi: neck2Hi, lo: neck2Lo, f: 0.5 },
    { i: 4, hi: neck1Hi, lo: neck1Lo, f: 0.45 },
    { i: 5, hi: tmpBalHi, lo: tmpBalLo, f: 0.8 },
  ];

  return (
    <div style={{ position: "absolute", left: 0, top: 0 }}>
      <svg
        width={W}
        height={H}
        viewBox={`0 0 ${W} ${H}`}
        style={{ display: "block", background: "#fff" }}
        fontFamily={FONT}
      >
        <defs>
          {tops.map((t, i) => (
            <clipPath id={`clip${i}`} key={i}>
              <rect x={X_LEFT} y={t} width={X_RIGHT - X_LEFT} height={PANEL_H} />
            </clipPath>
          ))}
        </defs>

        {/* panel 1 */}
        <g clipPath="url(#clip0)">
          <ThickNoise hi={gbrHi} lo={gbrLo} x={x} y={yr[0]!} color={LIGHT_BLUE} width={2} />
          <path d={hourly(gbrSmooth, x, yr[0]!)} fill="none" stroke={BLUE} strokeWidth={1.6} />
          <ThickNoise hi={tyHi} lo={tyLo} x={x} y={yl[0]} color={RED} width={3} />
          <path d={hourly(tySmooth, x, yl[0])} fill="none" stroke="#fff" strokeWidth={2.4} />
          <ThickNoise hi={txHi} lo={txLo} x={x} y={yl[0]} color="#000" width={3} />
          <path d={hourly(txSmooth, x, yl[0])} fill="none" stroke="#fff" strokeWidth={2.4} />
        </g>

        {/* panels 2-6: noisy records */}
        {noisy.map((s) => (
          <g key={s.i} clipPath={`url(#clip${s.i})`}>
            <GrayNoise hi={s.hi} lo={s.lo} x={x} y={yl[s.i]} frac={s.f} />
          </g>
        ))}
        <g clipPath="url(#clip2)">
          {dewrPLimit.map((v) => (
            <line
              key={v}
              x1={x(timeDomain[0])}
              x2={x(timeDomain[1])}
              y1={yl[2](v)}
              y2={yl[2](v)}
              stroke="#e05555"
              strokeWidth={1}
            />
          ))}
        </g>

        {/* panel 7 */}
        <g clipPath="url(#clip6)" fill="none">
          <path d={hourly(htrCrnt, x, yl[6])} stroke={GRAY} strokeWidth={2.6} />
          <path d={hourly(airPressure, x, yr[6]!)} stroke={BLUE} strokeWidth={1.6} />
        </g>

        {/* frames and axes */}
        {panels.map((p, i) => (
          <g key={i}>
            <XTicks x={x} top={tops[i]} />
            <YAxis axis={p.left} y={yl[i]} side="left" labels={true} />
            {p.right && <YAxis axis={p.right} y={yr[i]!} side="right" labels={true} />}
            {p.mirror && <YAxis axis={p.left} y={yl[i]} side="right" labels={false} />}
            <rect
              x={X_LEFT}
              y={tops[i]}
              width={X_RIGHT - X_LEFT}
              height={PANEL_H}
              fill="none"
              stroke="#000"
              strokeWidth={2.2}
            />
            <text
              transform={`translate(${p.ylabelX},${mid(i)}) rotate(-90)`}
              textAnchor="middle"
              fontSize={LABEL_FS}
            >
              {p.ylabel}
            </text>
          </g>
        ))}

        {/* top and bottom time labels */}
        {xMajor.map((v, i) => (
          <g key={"xl" + v} fontSize={TICK_FS} textAnchor="middle">
            <text x={x(v)} y={36.5}>
              {xLabels[i]}
            </text>
            <text x={x(v)} y={tops[6] + PANEL_H + 40}>
              {xLabels[i]}
            </text>
          </g>
        ))}

        {/* panel annotations */}
        <g fontSize={TICK_FS}>
          <text x={177} y={tops[0] + 24}>260815</text>
          <text x={cx} y={tops[0] + 24} textAnchor="middle">
            {"TX\u2212Pwr"}
            <tspan fill={RED}>{"\u00a0TY\u2212Pwr"}</tspan>
          </text>
          <text x={1029} y={tops[0] + 24} textAnchor="end" fill={BLUE}>
            {"SG\u2212Baro Resid."}
          </text>

          <text x={187} y={tops[1] + 24} fill={BLUE}>{lheLabel}</text>
          <text x={cx} y={tops[1] + 24} textAnchor="middle">
            {"Dwr\u2212Htr"}
            <tspan fill={BLUE}>{"\u00a0\u00a0LHe\u2212Lvl"}</tspan>
          </text>
          <text x={1021} y={tops[1] + 24} textAnchor="end" fill={BLUE}>{lheLabel}</text>

          <text x={cx} y={tops[2] + 24} textAnchor="middle">{"Dewr\u2212P"}</text>
          <text x={cx} y={tops[3] + 24} textAnchor="middle">{"NeckT\u22122"}</text>
          <text x={cx} y={tops[4] + 24} textAnchor="middle">{"NeckT\u22121"}</text>
          <text x={cx} y={tops[5] + 24} textAnchor="middle">{"Tmp\u2212Bal"}</text>
          <text x={cx} y={tops[6] + 24} textAnchor="middle">HtrCrnt</text>
          <text x={1029} y={tops[6] + 25} textAnchor="end" fill={BLUE}>Air pressure</text>
        </g>

        {/* right-hand axis titles */}
        <text
          transform={`translate(1143,${mid(0)}) rotate(-90)`}
          textAnchor="middle"
          fontSize={LABEL_FS}
          fill={BLUE}
        >
          g<tspan fontSize={19} dy={6}>br</tspan>
          <tspan dy={-6}>{"\u00a0[nm/s"}</tspan>
          <tspan fontSize={19} dy={-11}>2</tspan>
          <tspan dy={11}>]</tspan>
        </text>
        <text
          transform={`translate(1141,${mid(1)}) rotate(-90)`}
          textAnchor="middle"
          fontSize={LABEL_FS}
        >
          {"\u0394 LHe\u2212Lvl [per mil]"}
        </text>
        <text
          transform={`translate(1138,${mid(6)}) rotate(-90)`}
          textAnchor="middle"
          fontSize={LABEL_FS}
          fill={BLUE}
        >
          {"P\u22121000 [hPa]"}
        </text>

        {/* footer */}
        <text x={95} y={1633} fontSize={LABEL_FS}>
          {"2026\u221208\u221215"}
        </text>
        <text x={cx} y={1632} fontSize={LABEL_FS} textAnchor="middle">
          Time [h]
        </text>
      </svg>
    </div>
  );
}
